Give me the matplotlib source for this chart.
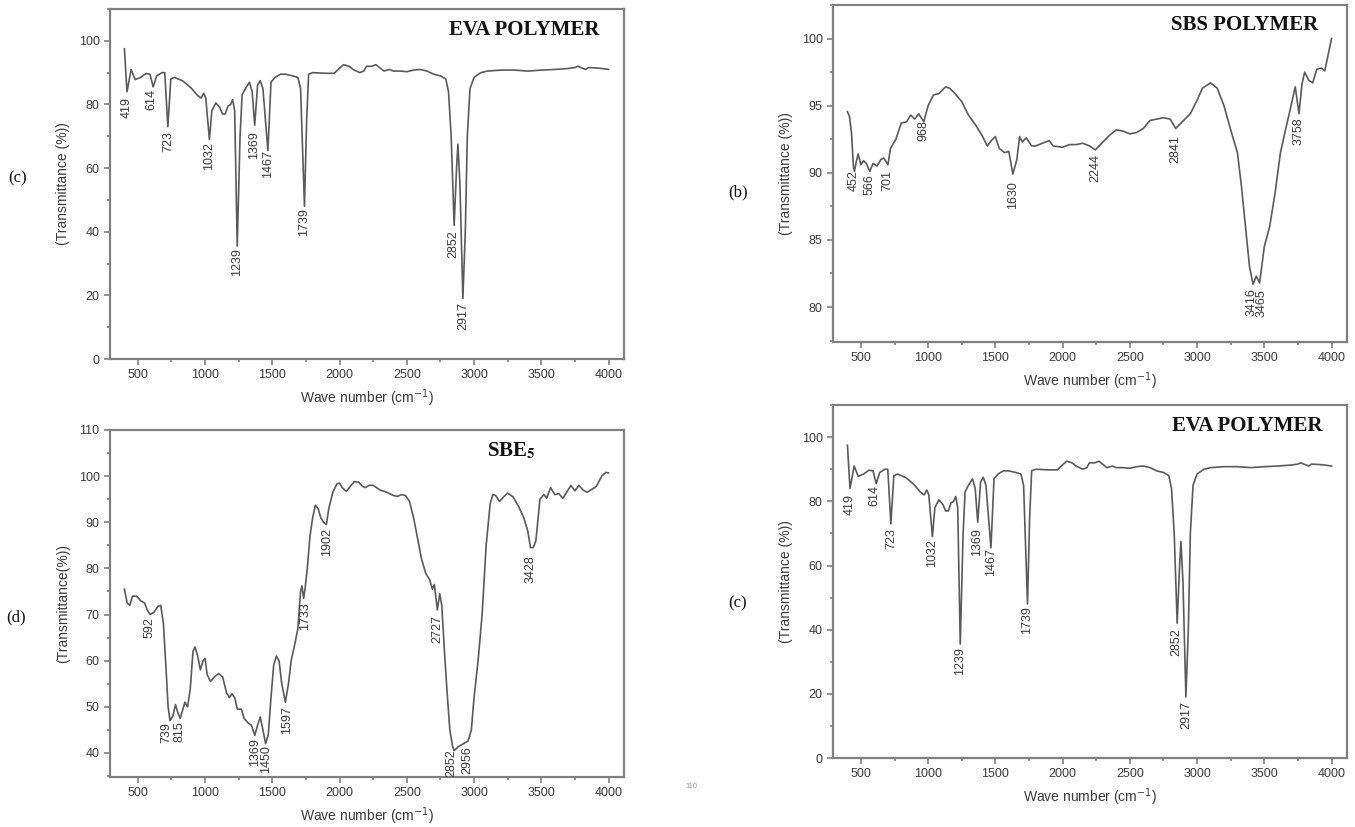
import numpy as np
import matplotlib.pyplot as plt
from matplotlib.ticker import MultipleLocator, AutoMinorLocator

# EVA polymer spectrum (used in panels top-left and bottom-right)
eva_x = [400, 419, 450, 480, 520, 560, 590, 614, 640, 680, 700, 723, 745, 770, 800,
         830, 860, 900, 940, 970, 990, 1005, 1032, 1050, 1080, 1110, 1130, 1150, 1170,
         1190, 1205, 1220, 1239, 1260, 1275, 1300, 1330, 1350, 1369, 1390, 1410, 1430,
         1467, 1490, 1520, 1560, 1600, 1650, 1690, 1710, 1739, 1755, 1770, 1800, 1900,
         1960, 1990, 2030, 2070, 2100, 2150, 2180, 2200, 2240, 2270, 2300, 2330, 2370,
         2400, 2450, 2500, 2550, 2600, 2650, 2700, 2750, 2790, 2810, 2830, 2852, 2870,
         2880, 2895, 2917, 2935, 2950, 2970, 3000, 3050, 3100, 3200, 3300, 3400, 3500,
         3600, 3700, 3750, 3770, 3800, 3830, 3850, 3900, 3950, 4000]
eva_y = [97.5, 84, 91, 87.8, 88.5, 89.7, 89.5, 85.5, 89, 90, 90, 73, 88, 88.5, 88,
         87.5, 86.5, 85, 83, 82, 83.5, 82, 69, 78, 80.5, 79, 77, 77, 79.5,
         80, 81.5, 78, 35.5, 70, 83, 85, 87, 84, 73.5, 86, 87.5, 85,
         65.5, 87, 88.5, 89.5, 89.5, 89, 88.5, 85, 48, 75, 89.5, 90, 89.8,
         89.8, 91, 92.5, 92, 91, 90, 90.5, 92, 92, 92.5, 91.5, 90.5, 91,
         90.5, 90.5, 90.3, 90.8, 91, 90.5, 89.5, 89, 88, 84, 70, 42, 60,
         67.5, 55, 19, 40, 70, 85, 88.5, 90, 90.5, 90.8, 90.8, 90.5, 90.8,
         91, 91.3, 91.6, 92, 91.5, 91, 91.6, 91.5, 91.3, 91]
eva_peaks = ['419', '614', '723', '1032', '1239', '1369', '1467', '1739', '2852', '2917']
eva_lab_x = [419, 603, 723, 1032, 1239, 1363, 1467, 1739, 2843, 2917]
eva_lab_y = [82.4, 85.0, 71.7, 68.2, 34.7, 71.7, 65.6, 47.3, 40.5, 17.9]

# SBS polymer spectrum
sbs_x = [400, 415, 430, 445, 452, 465, 480, 500, 520, 540, 566, 590, 620, 650, 670,
         701, 720, 760, 800, 840, 870, 900, 930, 968, 1000, 1040, 1080, 1130, 1160,
         1200, 1250, 1300, 1350, 1400, 1440, 1470, 1500, 1530, 1570, 1600, 1630, 1660,
         1680, 1700, 1730, 1770, 1800, 1850, 1900, 1930, 2000, 2050, 2100, 2150, 2200,
         2244, 2300, 2350, 2400, 2450, 2500, 2550, 2600, 2650, 2700, 2750, 2800, 2841,
         2880, 2950, 3000, 3040, 3070, 3100, 3150, 3200, 3250, 3300, 3330, 3360, 3390,
         3416, 3440, 3465, 3500, 3540, 3580, 3620, 3660, 3690, 3710, 3730, 3758, 3780,
         3800, 3830, 3860, 3890, 3920, 3950, 3975, 4000]
sbs_y = [94.55, 94.2, 93, 90.4, 90.1, 90.8, 91.4, 90.6, 90.9, 90.7, 90.1, 90.7, 90.5, 91, 91.1,
         90.6, 91.8, 92.5, 93.7, 93.8, 94.3, 94, 94.4, 93.8, 95, 95.8, 95.9, 96.4, 96.3,
         95.9, 95.3, 94.3, 93.6, 92.8, 92, 92.4, 92.7, 91.8, 91.5, 91.6, 89.9, 91,
         92.7, 92.3, 92.6, 92, 92, 92.2, 92.4, 92, 91.9, 92.1, 92.1, 92.2, 92,
         91.7, 92.3, 92.8, 93.2, 93.1, 92.9, 93, 93.3, 93.9, 94, 94.1, 94, 93.3,
         93.7, 94.4, 95.4, 96.3, 96.5, 96.7, 96.3, 95, 93.2, 91.5, 89, 86, 83,
         81.7, 82.3, 81.8, 84.5, 86, 88.5, 91.5, 93.3, 94.6, 95.5, 96.4, 94.4, 96.6,
         97.5, 96.9, 96.7, 97.7, 97.8, 97.6, 98.8, 100]
sbs_peaks = ['452', '566', '701', '968', '1630', '2244', '2841', '3416', '3465', '3758']
sbs_lab_x = [449, 561, 695, 968, 1630, 2244, 2841, 3402, 3482, 3758]
sbs_lab_y = [90.2, 89.9, 90.2, 93.9, 89.4, 91.4, 92.8, 81.4, 81.3, 94.1]

# SBE5 spectrum
sbe_x = [400, 420, 440, 460, 490, 520, 550, 570, 592, 620, 650, 670, 690, 710, 725,
         739, 760, 780, 800, 815, 830, 850, 870, 890, 910, 925, 945, 965, 985, 1000,
         1015, 1040, 1070, 1100, 1130, 1160, 1180, 1200, 1220, 1240, 1270, 1290, 1320,
         1345, 1369, 1390, 1410, 1430, 1450, 1470, 1490, 1510, 1530, 1550, 1570, 1597,
         1620, 1640, 1670, 1690, 1710, 1720, 1733, 1745, 1760, 1780, 1800, 1820, 1840,
         1860, 1880, 1902, 1920, 1950, 1980, 2000, 2020, 2050, 2080, 2110, 2140, 2170,
         2190, 2220, 2250, 2300, 2350, 2400, 2430, 2460, 2490, 2520, 2550, 2580, 2610,
         2640, 2670, 2690, 2705, 2727, 2745, 2760, 2780, 2800, 2820, 2840, 2852, 2880,
         2920, 2956, 2980, 3000, 3030, 3060, 3090, 3120, 3140, 3160, 3190, 3220, 3250,
         3290, 3330, 3370, 3400, 3420, 3440, 3460, 3490, 3520, 3540, 3570, 3600, 3630,
         3660, 3700, 3720, 3750, 3780, 3810, 3840, 3880, 3910, 3950, 3980, 4000]
sbe_y = [75.5, 72.5, 72, 74, 74, 73, 72.5, 71, 70, 70.5, 71.8, 72, 68, 58, 50,
         47, 48, 50.5, 48.5, 47.5, 49, 51, 50, 54, 62, 63, 61, 58, 60, 60.5,
         57, 55.5, 56.5, 57.2, 56.5, 53, 52, 52.8, 52, 49.5, 49.5, 47.5, 46.5,
         46, 43.8, 46, 47.8, 45, 42, 44, 52, 59, 61, 60, 55, 51,
         55, 60, 64, 67, 75, 76.2, 73.5, 76, 80, 87, 91, 93.7, 93,
         91, 90, 89.5, 93, 96.5, 98.3, 98.5, 97.5, 96.7, 97.8, 98.8, 98.7, 97.8,
         97.5, 98, 98, 97, 96.5, 95.8, 95.6, 96, 95.8, 94.5, 91, 86.5, 82,
         79, 77.5, 75.5, 76.5, 71, 74.5, 72, 62, 53, 45, 41.5, 40.5, 41.3,
         42, 42.6, 45, 52, 60, 70, 85, 94, 96, 95.8, 94.5, 95.5, 96.3,
         95.5, 93.5, 91, 88, 84.5, 84.5, 86, 95, 96, 95.2, 97.5, 96, 96.2,
         95.2, 97, 98, 96.8, 98, 97, 96.5, 97.2, 97.8, 100, 100.8, 100.7]
sbe_peaks = ['592', '739', '815', '1369', '1450', '1597', '1733', '1902', '2727',
             '2852', '2956', '3428']
sbe_lab_x = [587, 715, 811, 1372, 1452, 1606, 1744, 1908, 2726, 2831, 2950, 3424]
sbe_lab_y = [69.5, 46.6, 46.9, 43.3, 41.8, 50.1, 72.6, 88.8, 69.9, 40.7, 41.5, 82.9]

LINE = '#5a5a5a'
SPINE = '#808080'
TXT = '#3a3a3a'

fig = plt.figure(figsize=(13.55, 8.27), dpi=100)


def panel(rect, x, y, ylim, ystep, yminor, peaks, lab_x, lab_y, title, title_x,
          ylabel, tag, tag_pos):
    ax = fig.add_axes(rect)
    ax.plot(x, y, color=LINE, lw=1.2)
    ax.set_xlim(293, 4115)
    ax.set_ylim(*ylim)
    ax.xaxis.set_major_locator(MultipleLocator(500))
    ax.xaxis.set_minor_locator(AutoMinorLocator(2))
    ax.yaxis.set_major_locator(MultipleLocator(ystep))
    ax.yaxis.set_minor_locator(MultipleLocator(yminor))
    for s in ax.spines.values():
        s.set_color(SPINE)
        s.set_linewidth(1.6)
    ax.tick_params(which='both', direction='out', color=SPINE, width=1.2,
                   labelsize=9, labelcolor=TXT, top=False, right=False)
    ax.tick_params(which='major', length=4)
    ax.tick_params(which='minor', length=2.5)
    for lab in ax.get_xticklabels() + ax.get_yticklabels():
        lab.set_family('Liberation Sans')
    ax.set_xlabel('Wave number (cm$^{-1}$)', fontsize=10, color=TXT,
                  family='Liberation Sans', labelpad=4)
    ax.set_ylabel(ylabel, fontsize=10, color=TXT, family='Liberation Sans', labelpad=6)
    for p, px, py in zip(peaks, lab_x, lab_y):
        ax.text(px, py, p, rotation=90, ha='center', va='top', fontsize=9,
                color=TXT, family='Liberation Sans')
    ax.text(title_x, 0.97, title, transform=ax.transAxes, ha='center', va='top',
            fontsize=15, fontweight='bold', family='Liberation Serif',
            math_fontfamily='stix', color='#111111')
    fig.text(tag_pos[0], tag_pos[1], tag, fontsize=12, family='Liberation Serif',
             ha='left', va='center', color='#111111')
    return ax


panel([0.0812, 0.5659, 0.3793, 0.4232], eva_x, eva_y, (0, 110), 20, 10,
      eva_peaks, eva_lab_x, eva_lab_y, 'EVA POLYMER', 0.805, '(Transmittance (%))',
      '(c)', (8 / 1355, 1 - 178 / 827))
panel([0.6148, 0.5865, 0.3793, 0.4075], sbs_x, sbs_y, (77.4, 102.5), 5, 2.5,
      sbs_peaks, sbs_lab_x, sbs_lab_y, 'SBS POLYMER', 0.80, '(Transmittance (%))',
      '(b)', (728 / 1355, 1 - 192 / 827))
panel([0.0812, 0.0605, 0.3793, 0.4196], sbe_x, sbe_y, (34.8, 110), 10, 5,
      sbe_peaks, sbe_lab_x, sbe_lab_y, r'SBE$_{\mathbf{5}}$', 0.78, '(Transmittance(%))',
      '(d)', (6 / 1355, 1 - 617 / 827))
panel([0.6148, 0.0834, 0.3793, 0.4268], eva_x, eva_y, (0, 110), 20, 10,
      eva_peaks, eva_lab_x, eva_lab_y, 'EVA POLYMER', 0.805, '(Transmittance (%))',
      '(c)', (728 / 1355, 1 - 603 / 827))

fig.text(685 / 1355, 1 - 787 / 827, '110', fontsize=5.5, color='#999999',
         family='Liberation Sans', ha='left', va='center')

fig.savefig('out.png', dpi=100)
